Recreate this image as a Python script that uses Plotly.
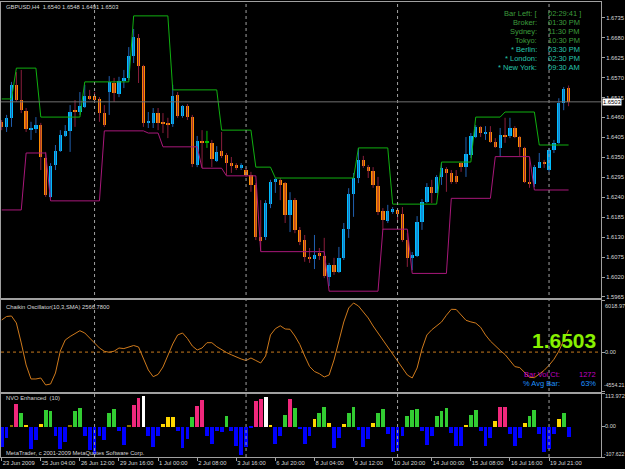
import plotly.graph_objects as go
from plotly.subplots import make_subplots

# ---------------- data ----------------
opens = [1.6448,1.6434,1.6459,1.6550,1.6508,1.6478,1.6425,1.6428,1.6439,1.6348,
         1.6241,1.6329,1.6368,1.6409,1.6423,1.6481,1.6475,1.6489,1.6519,1.6519,
         1.6511,1.6472,1.6530,1.6555,1.6525,1.6561,1.6569,1.6629,1.6679,1.6602,
         1.6445,1.6445,1.6472,1.6448,1.6445,1.6442,1.6522,1.6464,1.6491,1.6461,
         1.6329,1.6395,1.6390,1.6390,1.6340,1.6368,1.6357,1.6334,1.6329,1.6321,
         1.6315,1.6301,1.6274,1.6130,1.6130,1.6221,1.6282,1.6288,1.6279,1.6191,
         1.6232,1.6150,1.6122,1.6073,1.6070,1.6086,1.6078,1.6020,1.6053,1.6034,
         1.6073,1.6153,1.6249,1.6293,1.6343,1.6323,1.6312,1.6271,1.6202,1.6174,
         1.6199,1.6205,1.6194,1.6122,1.6073,1.6078,1.6172,1.6227,1.6268,1.6252,
         1.6296,1.6318,1.6307,1.6299,1.6334,1.6323,1.6357,1.6406,1.6434,1.6417,
         1.6420,1.6392,1.6376,1.6412,1.6409,1.6431,1.6406,1.6376,1.6282,1.6277,
         1.6321,1.6337,1.6315,1.6370,1.6390,1.6500,1.6540]
highs = [1.6453,1.6467,1.6558,1.6585,1.6591,1.6486,1.6448,1.6461,1.6445,1.6365,
         1.6334,1.6384,1.6425,1.6439,1.6494,1.6508,1.6530,1.6550,1.6536,1.6530,
         1.6516,1.6494,1.6574,1.6569,1.6572,1.6591,1.6654,1.6704,1.6690,1.6605,
         1.6475,1.6486,1.6486,1.6472,1.6459,1.6550,1.6530,1.6494,1.6497,1.6467,
         1.6409,1.6425,1.6423,1.6398,1.6381,1.6420,1.6362,1.6351,1.6334,1.6334,
         1.6321,1.6310,1.6279,1.6232,1.6232,1.6288,1.6293,1.6293,1.6282,1.6254,
         1.6238,1.6158,1.6136,1.6100,1.6136,1.6100,1.6128,1.6059,1.6073,1.6103,
         1.6169,1.6265,1.6307,1.6376,1.6354,1.6329,1.6323,1.6296,1.6210,1.6219,
         1.6213,1.6210,1.6213,1.6141,1.6089,1.6188,1.6235,1.6279,1.6288,1.6301,
         1.6334,1.6323,1.6315,1.6315,1.6337,1.6406,1.6417,1.6439,1.6436,1.6436,
         1.6436,1.6403,1.6431,1.6459,1.6459,1.6436,1.6409,1.6379,1.6351,1.6329,
         1.6362,1.6343,1.6376,1.6398,1.6513,1.6544,1.6548]
lows = [1.6425,1.6420,1.6434,1.6503,1.6472,1.6420,1.6398,1.6417,1.6315,1.6241,
        1.6238,1.6315,1.6365,1.6406,1.6365,1.6434,1.6467,1.6486,1.6508,1.6503,
        1.6448,1.6434,1.6467,1.6503,1.6516,1.6541,1.6563,1.6610,1.6555,1.6434,
        1.6431,1.6431,1.6425,1.6417,1.6403,1.6434,1.6459,1.6459,1.6453,1.6323,
        1.6323,1.6321,1.6376,1.6323,1.6337,1.6348,1.6301,1.6307,1.6315,1.6315,
        1.6296,1.6255,1.6122,1.6092,1.6122,1.6210,1.6252,1.6232,1.6169,1.6144,
        1.6141,1.6108,1.6062,1.6059,1.6042,1.6067,1.6017,1.5995,1.6026,1.6031,
        1.6067,1.6128,1.6186,1.6279,1.6321,1.6293,1.6266,1.6191,1.6150,1.6169,
        1.6194,1.6172,1.6117,1.6048,1.6039,1.6075,1.6150,1.6224,1.6224,1.6252,
        1.6274,1.6255,1.6277,1.6277,1.6310,1.6296,1.6348,1.6403,1.6406,1.6398,
        1.6390,1.6376,1.6351,1.6390,1.6403,1.6403,1.6354,1.6279,1.6266,1.6268,
        1.6321,1.6321,1.6310,1.6362,1.6387,1.6480,1.6491]
closes = [1.6434,1.6459,1.6550,1.6508,1.6481,1.6428,1.6431,1.6439,1.6351,1.6246,
          1.6326,1.6368,1.6412,1.6423,1.6475,1.6475,1.6491,1.6519,1.6511,1.6508,
          1.6472,1.6439,1.6558,1.6527,1.6561,1.6569,1.6629,1.6682,1.6602,1.6445,
          1.6450,1.6472,1.6445,1.6442,1.6439,1.6519,1.6464,1.6491,1.6461,1.6332,
          1.6395,1.6390,1.6390,1.6345,1.6365,1.6354,1.6334,1.6326,1.6321,1.6329,
          1.6301,1.6274,1.6130,1.6119,1.6224,1.6282,1.6290,1.6274,1.6191,1.6232,
          1.6150,1.6117,1.6075,1.6070,1.6081,1.6078,1.6023,1.6053,1.6034,1.6073,
          1.6153,1.6249,1.6293,1.6343,1.6326,1.6312,1.6274,1.6199,1.6177,1.6202,
          1.6208,1.6194,1.6122,1.6073,1.6081,1.6172,1.6227,1.6268,1.6252,1.6296,
          1.6321,1.6307,1.6282,1.6282,1.6323,1.6359,1.6409,1.6434,1.6417,1.6420,
          1.6392,1.6379,1.6412,1.6406,1.6431,1.6406,1.6379,1.6282,1.6279,1.6323,
          1.6337,1.6334,1.6370,1.6390,1.6500,1.6538,1.6503]
upper_band = [1.6511,1.6511,1.6511,1.6596,1.6596,1.6596,1.6596,1.6596,1.6461,1.6461,
              1.6461,1.6461,1.6461,1.6461,1.6461,1.6461,1.6461,1.6558,1.6558,1.6558,
              1.6558,1.6558,1.6558,1.6558,1.6558,1.6558,1.6558,1.6740,1.6740,1.6740,
              1.6740,1.6740,1.6740,1.6740,1.6740,1.6536,1.6536,1.6536,1.6536,1.6536,
              1.6536,1.6536,1.6536,1.6536,1.6536,1.6425,1.6425,1.6425,1.6425,1.6425,
              1.6425,1.6425,1.6323,1.6323,1.6323,1.6323,1.6293,1.6293,1.6293,1.6293,
              1.6293,1.6293,1.6293,1.6293,1.6293,1.6293,1.6293,1.6293,1.6293,1.6293,
              1.6293,1.6293,1.6293,1.6376,1.6376,1.6376,1.6376,1.6376,1.6376,1.6376,
              1.6221,1.6221,1.6221,1.6221,1.6221,1.6221,1.6221,1.6221,1.6221,1.6221,
              1.6337,1.6337,1.6337,1.6337,1.6337,1.6337,1.6337,1.6461,1.6461,1.6461,
              1.6461,1.6461,1.6461,1.6475,1.6475,1.6475,1.6475,1.6475,1.6475,1.6475,
              1.6384,1.6384,1.6384,1.6384,1.6384,1.6384,1.6384]
lower_band = [1.6205,1.6205,1.6205,1.6205,1.6205,1.6362,1.6362,1.6362,1.6362,1.6362,
              1.6230,1.6230,1.6230,1.6230,1.6230,1.6230,1.6230,1.6230,1.6230,1.6230,
              1.6230,1.6423,1.6423,1.6423,1.6423,1.6423,1.6423,1.6423,1.6423,1.6423,
              1.6417,1.6417,1.6417,1.6379,1.6379,1.6379,1.6379,1.6379,1.6379,1.6379,
              1.6379,1.6320,1.6320,1.6320,1.6320,1.6320,1.6299,1.6299,1.6299,1.6299,
              1.6299,1.6299,1.6299,1.6090,1.6090,1.6090,1.6090,1.6090,1.6090,1.6090,
              1.6090,1.6090,1.6090,1.6090,1.6090,1.6090,1.6090,1.5981,1.5981,1.5981,
              1.5981,1.5981,1.5981,1.5981,1.5981,1.5981,1.5981,1.5981,1.6152,1.6152,
              1.6152,1.6152,1.6152,1.6152,1.6030,1.6030,1.6030,1.6030,1.6030,1.6030,
              1.6030,1.6030,1.6237,1.6237,1.6237,1.6237,1.6237,1.6237,1.6237,1.6237,
              1.6237,1.6352,1.6352,1.6352,1.6352,1.6352,1.6352,1.6352,1.6352,1.6260,
              1.6260,1.6260,1.6260,1.6260,1.6260,1.6260,1.6260]
chaikin = [3709,4114,4171,3363,1052,-1491,-3108,-3108,-2993,-3802,
           -3686,-2415,127,1398,1803,2149,2473,2207,1629,994,
           474,92,-23,104,474,404,589,763,589,-740,
           -2068,-2843,-2577,-1722,-451,936,1976,2207,1571,705,
           243,474,1086,1086,624,243,-46,-312,-566,-797,
           -971,-682,-971,-1259,-451,1976,2704,3039,2669,2635,
           1860,878,-451,-1664,-2242,-2496,-2877,-2646,-913,1398,
           3478,5096,5674,5327,4634,3940,3016,2207,1398,589,
           -104,-913,-1837,-2646,-2993,-1837,358,1976,2577,3039,
           3478,4264,4946,4922,4310,3674,3490,3351,2866,1976,
           1271,705,196,-289,-959,-1675,-1791,-2415,-2912,-2958,
           -2507,-2115,-1525,-832,104,1300,2567]
nvo = [-71,-40,4,78,49,3,-77,-48,9,59,
       56,-31,-77,-54,3,55,64,-31,-83,-94,
       -31,-46,47,63,-14,-63,3,76,101,107,
       -31,-71,-31,9,32,34,-16,-75,-43,34,
       72,93,-31,-60,-14,-17,36,-14,-66,-100,
       -71,-6,90,95,105,6,-60,-31,40,98,
       64,-8,-60,-33,26,46,67,13,-75,-40,
       9,47,67,-11,-71,-43,13,47,61,-25,
       -89,-85,-31,38,59,61,-14,-63,-31,38,
       55,64,-22,-66,-68,7,40,59,-14,-68,
       -40,21,70,70,-25,-68,-40,13,38,59,
       -25,-89,-77,-25,26,47,-37]
nvo_class = list("BBOPGYBBYGGBBBOGGBBBBBGGBBOPPWBBBYYYBBBGPPBBBBGBBBBBPPWYBBGPGBBBYGGYBBYGGBBBYGGBBBBGGGBBBGGGBBBYGGBBBYPPBBBYGGBBBBYGB")
x_tick_pos = [0, 8, 16, 24, 32, 40, 48, 56, 64, 72, 80, 88, 96, 104, 112]
x_tick_text = ["23 Jun 2009", "25 Jun 04:00", "26 Jun 12:00", "29 Jun 16:00", "1 Jul 00:00",
               "2 Jul 08:00", "3 Jul 16:00", "6 Jul 20:00", "8 Jul 04:00", "9 Jul 12:00",
               "10 Jul 20:00", "14 Jul 00:00", "15 Jul 08:00", "16 Jul 16:00", "19 Jul 21:00"]
week_starts = [19, 50, 81, 112]
price_ticks = ["1.5965", "1.6020", "1.6075", "1.6130", "1.6185", "1.6240", "1.6295", "1.6350",
               "1.6405", "1.6460", "1.6515", "1.6570", "1.6625", "1.6680", "1.6735"]
last_price = 1.6503
chaikin_labels = [6018.97, 0.0, -4554.21]
nvo_labels = [113.972, 0.0, -107.622]

# ---------------- styling ----------------
BULL, BEAR, DOJI = "#00bfff", "#ff8c00", "#00c000"
BULL_WICK, BEAR_WICK = "#2060b0", "#8a1e3c"
FRAME = "#a0a0a0"
TXT = "#d8d8d8"
FONT = "Liberation Sans"
NVO_COLORS = {"B": "#0000ff", "G": "#32cd32", "Y": "#ffd700", "P": "#f0287c",
              "W": "#ffffff", "O": "#8b7500"}

idx = list(range(len(opens)))

W, H = 625, 469
L, R, T, Bm = 1, 24, 2, 12
PW, PH = W - L - R, H - T - Bm
def pxx(x):
    return (x - L) / PW
def pxy(y):
    return (H - Bm - y) / PH

fig = make_subplots(rows=3, cols=1, shared_xaxes=True)

# wicks
for color, cond in ((BULL_WICK, lambda o, c: c > o), (BEAR_WICK, lambda o, c: c < o), (DOJI, lambda o, c: c == o)):
    xs, ys = [], []
    for i in idx:
        if cond(opens[i], closes[i]):
            xs += [i, i, None]
            ys += [lows[i], highs[i], None]
    fig.add_trace(go.Scatter(x=xs, y=ys, mode="lines", line=dict(color=color, width=1),
                             hoverinfo="skip", showlegend=False), row=1, col=1)

# bodies
body_base = [min(o, c) for o, c in zip(opens, closes)]
body_h = [max(abs(c - o), 0.0003) for o, c in zip(opens, closes)]
body_col = [BULL if c > o else (BEAR if c < o else DOJI) for o, c in zip(opens, closes)]
fig.add_trace(go.Bar(x=idx, y=body_h, base=body_base, width=0.68, marker=dict(color=body_col, line=dict(width=0)),
                     showlegend=False), row=1, col=1)

fig.add_trace(go.Scatter(x=idx, y=upper_band, mode="lines", line=dict(color="#10b010", width=1),
                         showlegend=False), row=1, col=1)
fig.add_trace(go.Scatter(x=idx, y=lower_band, mode="lines", line=dict(color="#a8187a", width=1),
                         showlegend=False), row=1, col=1)

fig.add_trace(go.Scatter(x=idx, y=chaikin, mode="lines", line=dict(color="#cf7a1c", width=1),
                         showlegend=False), row=2, col=1)

fig.add_trace(go.Bar(x=idx, y=nvo, width=0.78, marker=dict(color=[NVO_COLORS[c] for c in nvo_class], line=dict(width=0)),
                     showlegend=False), row=3, col=1)

xr = [(L - 1.7) / 4.887, (L + PW - 1.7) / 4.887]
axcommon = dict(showgrid=False, zeroline=False, showline=True, mirror=True, linecolor=FRAME, linewidth=1,
                automargin=False)
fig.update_xaxes(range=xr, **axcommon)
fig.update_xaxes(showticklabels=False, ticks="", row=1, col=1)
fig.update_xaxes(showticklabels=False, ticks="", row=2, col=1)
fig.update_xaxes(tickmode="array", tickvals=x_tick_pos, ticktext=x_tick_text, ticks="outside", ticklen=3,
                 tickcolor=FRAME, ticklabelposition="outside right", tickangle=0,
                 tickfont=dict(size=5.8, color=TXT, family=FONT), row=3, col=1)

py_top, py_main_bot = 2, 297.5
p_top = 1.67838 - 0.0002757 * py_top
p_bot = 1.67838 - 0.0002757 * py_main_bot
fig.update_layout(
    yaxis=dict(domain=[pxy(297.5), 1], range=[p_bot, p_top], side="right", tickmode="array",
               tickvals=[float(t) for t in price_ticks], ticktext=price_ticks, ticks="outside", ticklen=3,
               tickcolor=FRAME, tickfont=dict(size=5.8, color=TXT, family=FONT), **axcommon),
    yaxis2=dict(domain=[pxy(391.5), pxy(300)], range=[chaikin_labels[2], chaikin_labels[0]], side="right",
                tickmode="array", tickvals=chaikin_labels, ticks="outside", ticklen=3, tickcolor=FRAME,
                showticklabels=False, **axcommon),
    yaxis3=dict(domain=[0, pxy(393.5)], range=[nvo_labels[2], nvo_labels[0]], side="right",
                tickmode="array", tickvals=nvo_labels, ticks="outside", ticklen=3, tickcolor=FRAME,
                showticklabels=False, **axcommon),
)

shapes = []
for k in week_starts:
    shapes.append(dict(type="line", xref="x", yref="paper", x0=k, x1=k, y0=0, y1=1,
                       line=dict(color="#a0a0a0", width=1, dash="dot")))
shapes.append(dict(type="line", xref="paper", yref="y", x0=0, x1=1, y0=last_price, y1=last_price,
                   line=dict(color="#707070", width=1)))
shapes.append(dict(type="line", xref="paper", yref="y2", x0=0, x1=1, y0=0, y1=0,
                   line=dict(color="#c87a1e", width=1, dash="dot")))

ann = []
def text(x, y, s, color=TXT, size=5.8, xanchor="left", bold=False, **kw):
    ann.append(dict(x=pxx(x), y=pxy(y), xref="paper", yref="paper", text=("<b>%s</b>" % s) if bold else s,
                    showarrow=False, xanchor=xanchor, yanchor="middle",
                    font=dict(size=size, color=color, family=FONT), **kw))

text(4, 7.5, "GBPUSD,H4  1.6540 1.6548 1.6491 1.6503")
text(4, 307, "Chaikin Oscillator(10,3,SMA) 2566.7800")
text(4, 398, "NVO Enhanced  (10)")
text(4, 453, "MetaTrader, c 2001-2009 MetaQuotes Software Corp.")

G1, G2 = "#3c9c3c", "#26c4aa"
clock = [("Bar Left: [", "02:29:41 ]", G1), ("Broker:", "01:30 PM", G1), ("Sydney:", "11:30 PM", G1),
         ("Tokyo:", "10:30 PM", G1), ("* Berlin:", "03:30 PM", G2), ("* London:", "02:30 PM", G2),
         ("* New York:", "09:30 AM", G2)]
for i, (a, b, c) in enumerate(clock):
    yy = 13.3 + i * 9.1
    text(539, yy, a, color=c, size=7.5, xanchor="right")
    text(546, yy, b, color=c, size=7.5)

text(598, 340, "1.6503", color="#88f000", size=21, xanchor="right", bold=True)
text(562, 374, "Bar Vol Ct:", color="#c000c0", size=7.5, xanchor="right")
text(598, 374, "1272", color="#c000c0", size=7.5, xanchor="right")
text(562, 383, "% Avg Bar:", color="#1e90ff", size=7.5, xanchor="right")
text(598, 383, "63%", color="#1e90ff", size=7.5, xanchor="right")

# right-axis labels for the indicator panels
text(603, 306, "6018.97", size=5.6)
text(603, 352, "0.00", size=5.6)
text(602, 385, "-4554.21", size=5.2)
text(603, 396, "113.972", size=5.6)
text(603, 426, "0.00", size=5.6)
text(602, 454, "-107.622", size=5.2)
# current price box
ann.append(dict(x=pxx(602), y=last_price, xref="paper", yref="y", text="1.6503", showarrow=False,
                xanchor="left", yanchor="middle", bgcolor="#ffffff", borderpad=0,
                font=dict(size=5.8, color="#000000", family=FONT)))

fig.update_layout(
    width=W, height=H, margin=dict(l=L, r=R, t=T, b=Bm, pad=0, autoexpand=False),
    paper_bgcolor="#000000", plot_bgcolor="#000000", barmode="overlay", bargap=0,
    showlegend=False, shapes=shapes, annotations=ann,
    font=dict(family=FONT, size=5.8, color=TXT),
)
fig.write_html("out.html")
